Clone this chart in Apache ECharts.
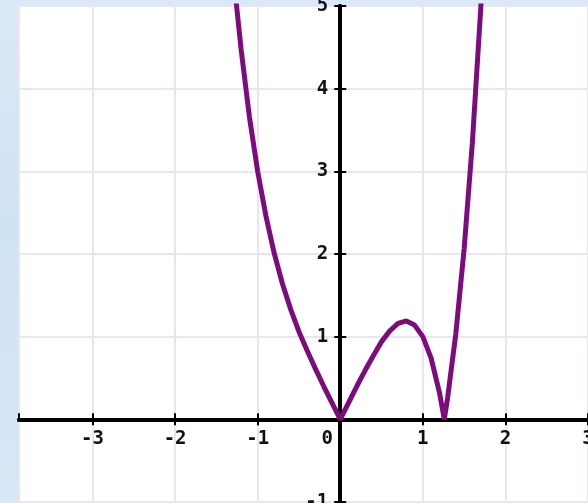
<!DOCTYPE html>
<html>
<head>
<meta charset="utf-8">
<script src="https://cdn.jsdelivr.net/npm/echarts@6/dist/echarts.min.js"></script>
<style>
  html, body { margin: 0; padding: 0; }
  body {
    width: 588px;
    height: 503px;
    background: linear-gradient(180deg, #dae9f7 0%, #cfe2f3 45%, #d6e7f6 100%);
  }
  #chart { width: 588px; height: 503px; }
</style>
</head>
<body>
<div id="chart"></div>
<script>
// curve points
const xValues = [-1.27, -1.2, -1.1, -1.0, -0.9, -0.8, -0.7, -0.6, -0.5, -0.4, -0.3, -0.2, -0.1, 0,
  0.1, 0.2, 0.3, 0.4, 0.5, 0.6, 0.7, 0.8, 0.9, 1.0, 1.1, 1.2, 1.26, 1.3, 1.4, 1.5, 1.6, 1.7, 1.73]
const yValues = [5.14, 4.47, 3.66, 3.0, 2.46, 2.01, 1.64, 1.33, 1.06, 0.83, 0.61, 0.40, 0.20, 0,
  0.20, 0.40, 0.59, 0.77, 0.94, 1.07, 1.16, 1.19, 1.14, 1.0, 0.74, 0.33, 0, 0.26, 1.04, 2.06, 3.35, 4.95, 5.5]
const xRange = [-3.89, 3]
const yRange = [-1, 5]

const W = 588, H = 503
const grid = { left: 19, right: 0, top: 6, bottom: 1 }
const gw = W - grid.left - grid.right
const gh = H - grid.top - grid.bottom
// where zero sits inside the grid, so the axes can be moved onto it
const zeroFromLeft = (0 - xRange[0]) / (xRange[1] - xRange[0]) * gw
const zeroFromBottom = (0 - yRange[0]) / (yRange[1] - yRange[0]) * gh

const chart = echarts.init(document.getElementById('chart'))

const axisLine = { show: true, onZero: false, lineStyle: { color: '#000', width: 4 } }
const axisTick = { show: true, length: 6, lineStyle: { color: '#000', width: 2 } }
const labelFont = { fontFamily: 'DejaVu Sans Mono', fontWeight: 'bold', fontSize: 19, color: '#111' }
const gridLine = { show: true, lineStyle: { color: '#ebe5f3', width: 2 } }

chart.setOption({
  animation: false,
  grid: Object.assign({
    outerBoundsMode: 'none', containLabel: false,
    show: true, backgroundColor: '#fff', borderWidth: 0
  }, grid),
  xAxis: [
    {
      type: 'value', min: xRange[0], max: xRange[1], minInterval: 1, maxInterval: 1,
      position: 'bottom', offset: -zeroFromBottom,
      axisLine: axisLine, axisTick: axisTick, splitLine: gridLine,
      axisLabel: Object.assign({
        margin: 10, showMinLabel: false,
        formatter: v => v === 0 ? '{z|0}' : String(v),
        rich: { z: Object.assign({ padding: [0, 26, 0, 0] }, labelFont) }
      }, labelFont)
    },
    {
      type: 'value', min: xRange[0], max: xRange[1], minInterval: 1, maxInterval: 1,
      position: 'top', offset: -(gh - zeroFromBottom),
      axisLine: axisLine, axisTick: axisTick,
      axisLabel: { show: false }, splitLine: { show: false }
    }
  ],
  yAxis: [
    {
      type: 'value', min: yRange[0], max: yRange[1], interval: 1,
      position: 'left', offset: -zeroFromLeft,
      axisLine: axisLine, axisTick: axisTick, splitLine: gridLine,
      axisLabel: Object.assign({ margin: 12, formatter: v => v === 0 ? '' : String(v) }, labelFont)
    },
    {
      type: 'value', min: yRange[0], max: yRange[1], interval: 1,
      position: 'right', offset: -(gw - zeroFromLeft),
      axisLine: axisLine, axisTick: axisTick,
      axisLabel: { show: false }, splitLine: { show: false }
    }
  ],
  series: [
    {
      type: 'line',
      data: xValues.map((x, i) => [x, yValues[i]]),
      showSymbol: false,
      clip: true,
      lineStyle: { color: '#7e0b7e', width: 5 },
      z: 1
    }
  ]
})
</script>
</body>
</html>
